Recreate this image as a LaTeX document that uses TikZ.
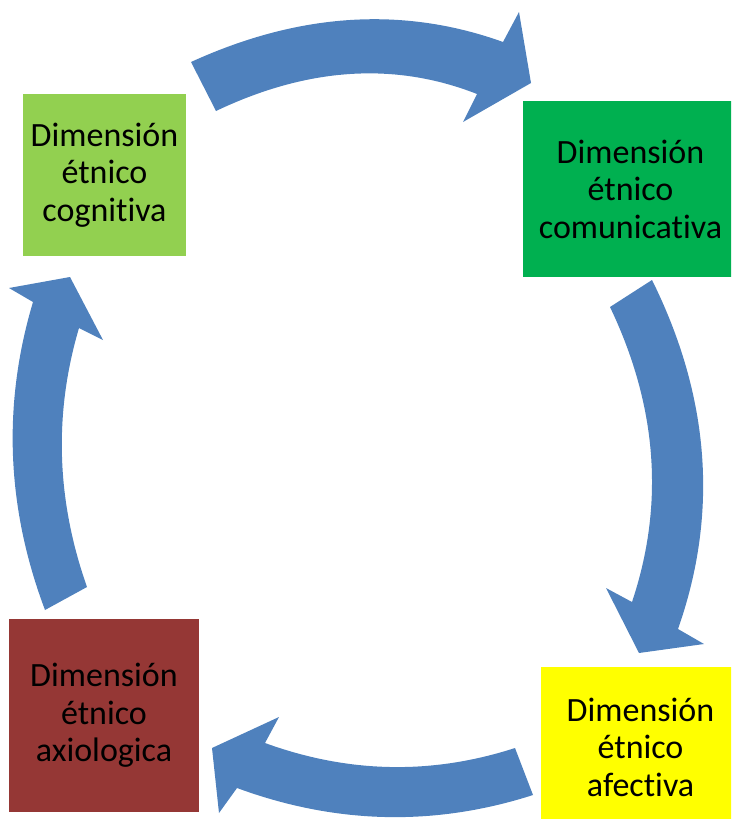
\documentclass[tikz,border=0pt]{standalone}
\usepackage{fontspec}
\setmainfont{Carlito}[Ligatures=NoCommon]
\usepackage{tikz}
\usetikzlibrary{calc}

\definecolor{cyclegreenlight}{HTML}{92D050}
\definecolor{cyclegreen}{HTML}{00B050}
\definecolor{cycleyellow}{HTML}{FFFF00}
\definecolor{cyclered}{HTML}{953735}
\definecolor{cycleblue}{HTML}{4F81BD}

\begin{document}
\begin{tikzpicture}[x=1pt, y=-1pt,
	dimbox/.style={rectangle, inner sep=0pt, align=center, font=\fontsize{34}{37.5}\selectfont},
	cyclearrow/.style={fill=cycleblue}]
	\useasboundingbox (0,0) rectangle (731,819);
	\clip (0,0) rectangle (731,819);
	% dimensiones
	\node[dimbox, fill=cyclegreenlight, minimum width=163pt, minimum height=162pt] (cognitiva) at (104.5,175) {Dimensión\\étnico\\cognitiva};
	\node[dimbox, fill=cyclegreen, minimum width=215pt, minimum height=176pt] (comunicativa) at (630.5,189) {Dimensión\\étnico\\comunicativa};
	\node[dimbox, fill=cycleyellow, minimum width=199pt, minimum height=160pt] (afectiva) at (640.5,747) {Dimensión\\étnico\\afectiva};
	\node[dimbox, fill=cyclered, minimum width=190pt, minimum height=193pt] (axiologica) at (104,715.5) {Dimensión\\étnico\\axiologica};
	% flechas
	\fill[cyclearrow] (191,62) .. controls ($(350,20)!-1/3!(503,42)$) and ($(350,20)!-1/3!(191,62)$) .. (503,42)
		-- (519,12) -- (531,83) -- (463,122) -- (477,94)
		.. controls ($(350,74)!-1/3!(216,111)$) and ($(350,74)!-1/3!(477,94)$) .. (216,111) -- cycle;
	\fill[cyclearrow] (652,280) .. controls ($(702,455)!-1/3!(678,629)$) and ($(702,455)!-1/3!(652,280)$) .. (678,629)
		-- (704,644) -- (639,653) -- (606,588) -- (632,602)
		.. controls ($(651,455)!-1/3!(610,307)$) and ($(651,455)!-1/3!(632,602)$) .. (610,307) -- cycle;
	\fill[cyclearrow] (533,795) .. controls ($(385,817)!-1/3!(237,788)$) and ($(385,817)!-1/3!(533,795)$) .. (237,788)
		-- (219,813) -- (212,748) -- (279,717) -- (265,743)
		.. controls ($(390,767)!-1/3!(515,748)$) and ($(390,767)!-1/3!(265,743)$) .. (515,748) -- cycle;
	\fill[cyclearrow] (45,610) .. controls ($(13,456)!-1/3!(33,302)$) and ($(13,456)!-1/3!(45,610)$) .. (33,302)
		-- (9,288) -- (70,277) -- (103,340) -- (79,328)
		.. controls ($(62,457)!-1/3!(87,587)$) and ($(62,457)!-1/3!(79,328)$) .. (87,587) -- cycle;
\end{tikzpicture}
\end{document}
